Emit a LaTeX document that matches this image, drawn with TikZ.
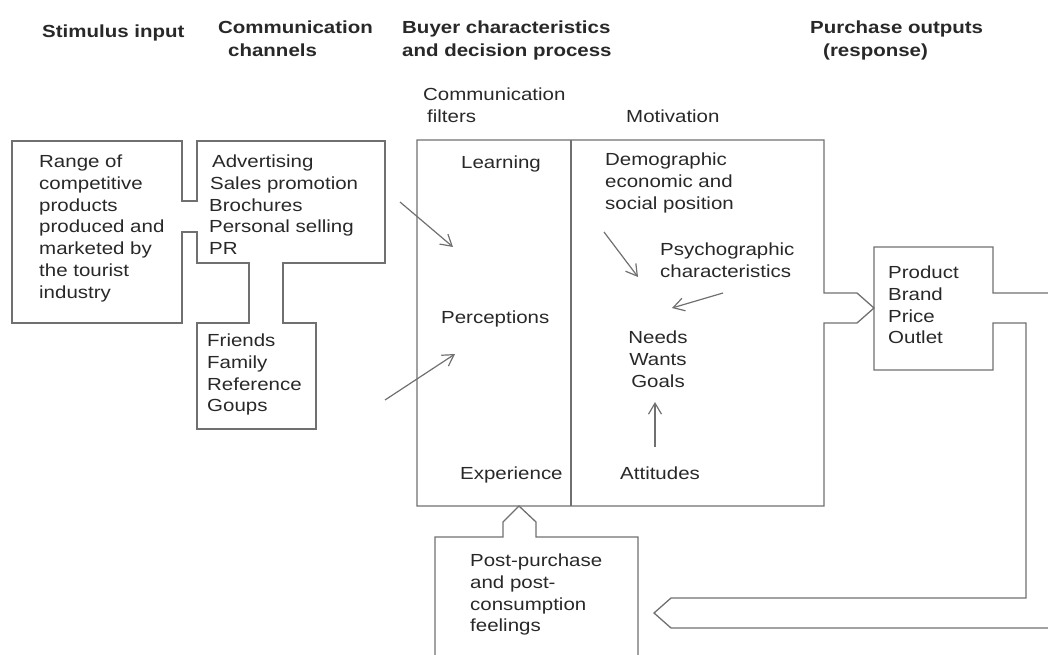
\documentclass[tikz,border=0pt]{standalone}
\usepackage{fontspec}
\setmainfont[FakeStretch=1.17]{Liberation Sans}
\usetikzlibrary{arrows.meta}
\definecolor{linec}{RGB}{112,112,112}
\definecolor{txtc}{RGB}{40,40,40}
\tikzset{
  outline/.style={draw=linec, line width=1.3pt, line join=miter},
  txt/.style={font=\fontsize{17.5}{21.7}\selectfont, inner sep=0pt, anchor=north west, align=left, text=txtc, execute at begin node=\strut},
  head/.style={font=\fontsize{17.5}{23}\selectfont\bfseries, inner sep=0pt, anchor=north west, align=left, text=txtc, execute at begin node=\strut},
  arr/.style={draw=linec, line width=1.2pt, -{Straight Barb[length=11pt,width=13pt,line width=1.2pt]}}
}
\begin{document}
\begin{tikzpicture}[x=1pt,y=-1pt]
\useasboundingbox (0,0) rectangle (1048,655);
% headers
\node[head] (h1) at (42,21) {Stimulus input};
\node[head] (h2) at (218,21) {Communication\\\hspace{10pt}channels};
\node[head] (h3) at (402,21) {Buyer characteristics\\and decision process};
\node[head] (h4) at (810,21) {Purchase outputs\\\hspace{13pt}(response)};
\node[txt] (cf) at (423,88) {Communication\\\hspace{4pt}filters};
\node[txt] (mot) at (626,107) {Motivation};
% left combined outline
\draw[outline] (12,141) -- (182,141) -- (182,201) -- (197,201) -- (197,141) -- (385,141) -- (385,263) -- (283,263) -- (283,323) -- (316,323) -- (316,429) -- (197,429) -- (197,323) -- (249,323) -- (249,263) -- (197,263) -- (197,232) -- (182,232) -- (182,323) -- (12,323) -- cycle;
\node[txt] (range) at (39,155) {Range of\\competitive\\products\\produced and\\marketed by\\the tourist\\industry};
\node[txt] (adv) at (209,155) {\hspace{3pt}Advertising\\\hspace{1pt}Sales promotion\\Brochures\\Personal selling\\PR};
\node[txt] (friends) at (207,334) {Friends\\Family\\Reference\\Goups};
% buyer box
\draw[outline] (417,140) -- (824,140) -- (824,293) -- (857,293) -- (874,308) -- (857,323) -- (824,323) -- (824,506) -- (417,506) -- cycle;
\draw[outline] (571,140) -- (571,506);
\node[txt] (learn) at (461,153) {Learning};
\node[txt] (perc) at (441,308) {Perceptions};
\node[txt] (exper) at (460,464) {Experience};
\node[txt] (demo) at (605,153) {Demographic\\economic and\\social position};
\node[txt] (psycho) at (660,243) {Psychographic\\characteristics};
\node[txt, align=center, anchor=north] (needs) at (658,331) {Needs\\Wants\\Goals};
\node[txt] (att) at (620,464) {Attitudes};
% product box and feedback band
\draw[outline] (1048,293) -- (993,293) -- (993,247) -- (874,247) -- (874,370) -- (993,370) -- (993,323) -- (1026,323) -- (1026,598) -- (671,598) -- (654,613) -- (671,628) -- (1048,628);
\node[txt] (prod) at (888,266) {Product\\Brand\\Price\\Outlet};
% post-purchase box
\draw[outline] (435,656) -- (435,537) -- (503,537) -- (503,522) -- (519,506) -- (536,522) -- (536,537) -- (638,537) -- (638,656);
\node[txt] (post) at (470,554) {Post-purchase\\and post-\\consumption\\feelings};
% arrows
\coordinate (a1s) at (400,202); \coordinate (a1e) at (453,247);
\coordinate (a2s) at (385,400); \coordinate (a2e) at (455,354);
\coordinate (a3s) at (604,232); \coordinate (a3e) at (638,277);
\coordinate (a4s) at (723,293); \coordinate (a4e) at (672,308);
\coordinate (a5s) at (655,447); \coordinate (a5e) at (655,402);
\draw[arr] (a1s) -- (a1e);
\draw[arr] (a2s) -- (a2e);
\draw[arr] (a3s) -- (a3e);
\draw[arr] (a4s) -- (a4e);
\draw[arr] (a5s) -- (a5e);
\end{tikzpicture}
\end{document}
